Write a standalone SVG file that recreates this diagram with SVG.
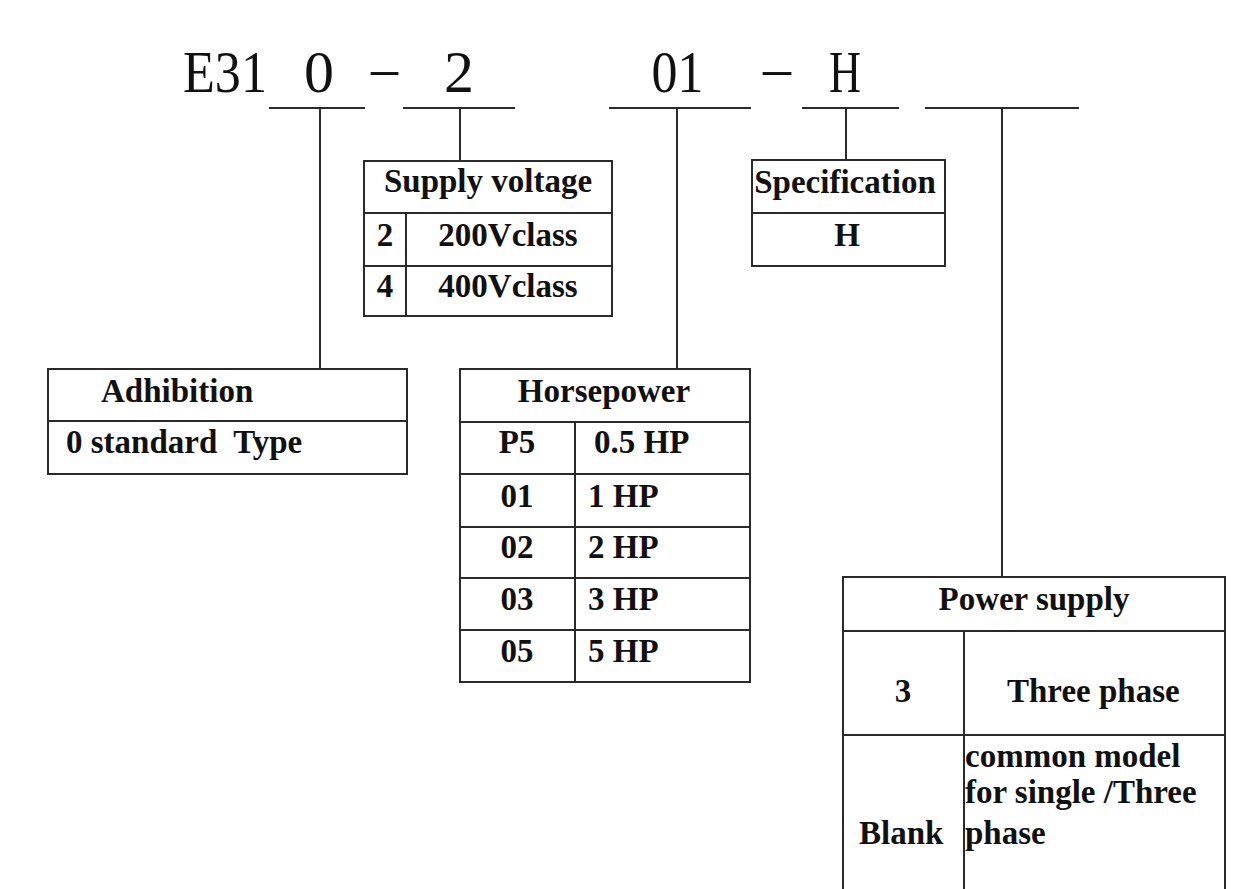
<svg xmlns="http://www.w3.org/2000/svg" width="1243" height="889" viewBox="0 0 1243 889">
<style>
.ln{stroke:#2a2a2a;stroke-width:2;fill:none}
.code{font-family:"Liberation Serif",serif;font-size:60px;fill:#111}
.t{font-family:"Liberation Serif",serif;font-weight:bold;font-size:33px;fill:#111}
.m{text-anchor:middle}
</style>
<rect width="1243" height="889" fill="#fff"/>
<g id="model-code">
<text class="code" x="183" y="92" textLength="84" lengthAdjust="spacingAndGlyphs">E31</text>
<text class="code m" x="319" y="92">0</text>
<text class="code m" x="384.5" y="87" textLength="27" lengthAdjust="spacingAndGlyphs">–</text>
<text class="code m" x="459" y="92">2</text>
<text class="code m" x="677.5" y="92" textLength="52" lengthAdjust="spacingAndGlyphs">01</text>
<text class="code m" x="777" y="87" textLength="28" lengthAdjust="spacingAndGlyphs">–</text>
<text class="code m" x="845" y="92" textLength="32" lengthAdjust="spacingAndGlyphs">H</text>
</g>
<g id="connectors">
<path class="ln" d="M269 108H365M403 108H515M609 108H751M802 108H899M925 108H1079"/>
<path class="ln" d="M320 108V369M460 108V161M677 108V369M846 108V160M1002 108V577"/>
</g>
<g id="adhibition">
<path class="ln" d="M48 369H407V474H48ZM48 421H407"/>
<text class="t" x="101" y="402">Adhibition</text>
<text class="t" x="66" y="453" xml:space="preserve">0 standard  Type</text>
</g>
<g id="supply-voltage">
<path class="ln" d="M364 161H612V316H364ZM364 213H612M364 266H612M406 213V316"/>
<text class="t m" x="488" y="192">Supply voltage</text>
<text class="t m" x="385" y="246">2</text>
<text class="t m" x="508" y="246">200Vclass</text>
<text class="t m" x="385" y="297">4</text>
<text class="t m" x="508" y="297">400Vclass</text>
</g>
<g id="horsepower">
<path class="ln" d="M460 369H750V682H460ZM460 422H750M460 474H750M460 527H750M460 578H750M460 630H750M575 422V682"/>
<text class="t m" x="604" y="402">Horsepower</text>
<text class="t m" x="517" y="453">P5</text>
<text class="t" x="594" y="453">0.5 HP</text>
<text class="t m" x="517" y="507">01</text>
<text class="t" x="588" y="507">1 HP</text>
<text class="t m" x="517" y="558">02</text>
<text class="t" x="588" y="558">2 HP</text>
<text class="t m" x="517" y="610">03</text>
<text class="t" x="588" y="610">3 HP</text>
<text class="t m" x="517" y="662">05</text>
<text class="t" x="588" y="662">5 HP</text>
</g>
<g id="specification">
<path class="ln" d="M752 160H945V266H752ZM752 213H945"/>
<text class="t m" x="845" y="193">Specification</text>
<text class="t m" x="847" y="246">H</text>
</g>
<g id="power-supply">
<path class="ln" d="M843 889V577H1225V889M843 631H1225M843 735H1225M964 631V889"/>
<text class="t m" x="1034" y="610">Power supply</text>
<text class="t m" x="903" y="702">3</text>
<text class="t" x="1007" y="702">Three phase</text>
<text class="t" x="965" y="767">common model</text>
<text class="t" x="965" y="803">for single /Three</text>
<text class="t" x="859" y="844">Blank</text>
<text class="t" x="965" y="844">phase</text>
</g>
</svg>
